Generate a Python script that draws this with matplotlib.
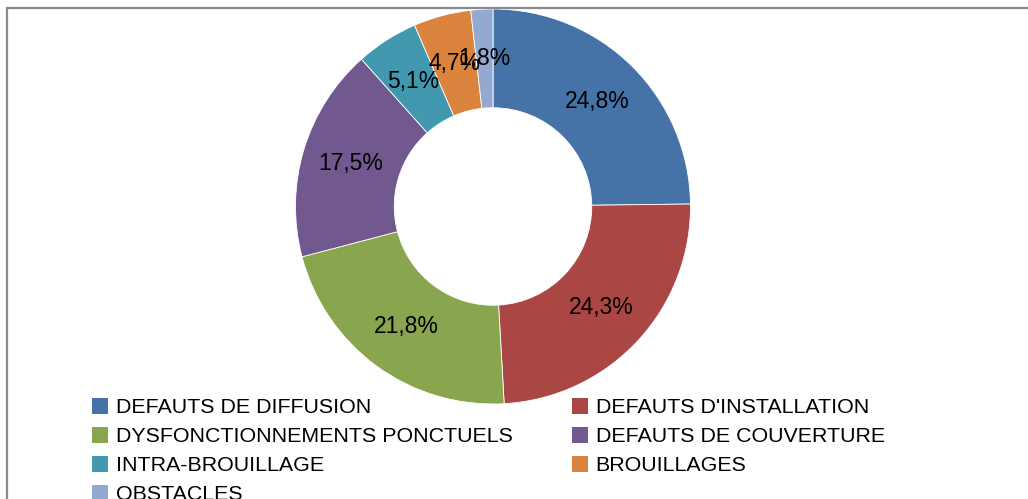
import matplotlib
matplotlib.use("Agg")
import matplotlib.pyplot as plt
from matplotlib.patches import Patch, Rectangle

categories = ["DEFAUTS DE DIFFUSION", "DEFAUTS D'INSTALLATION", "DYSFONCTIONNEMENTS PONCTUELS",
              "DEFAUTS DE COUVERTURE", "INTRA-BROUILLAGE", "BROUILLAGES", "OBSTACLES"]
values = [24.8, 24.3, 21.8, 17.5, 5.1, 4.7, 1.8]
colors = ["#4572A7", "#AA4643", "#89A54E", "#71588F", "#4198AF", "#DB843D", "#93A9CF"]

plt.rcParams['font.family'] = ['Liberation Sans', 'DejaVu Sans']

W, H = 1028, 499
fig = plt.figure(figsize=(W / 100, H / 100), dpi=100)

# frame (cropped on right and bottom)
fig.patches.append(Rectangle((6.5 / W, -0.2), 1.2, 1.2 - 7.5 / H, transform=fig.transFigure,
                             fill=False, edgecolor="#8a8a8a", linewidth=1.6))

cx, cy, R = 493, 206.5, 197.5
ax = fig.add_axes([(cx - R) / W, (H - cy - R) / H, 2 * R / W, 2 * R / H])
wedges, texts, autotexts = ax.pie(
    values, colors=colors, startangle=90, counterclock=False, radius=1.0,
    wedgeprops=dict(width=0.5, edgecolor="white", linewidth=0.6),
    autopct=lambda p: f"{p:.1f}%".replace(".", ","), pctdistance=0.75,
    textprops=dict(fontsize=16.5, color="black"))
ax.set_xlim(-1, 1)
ax.set_ylim(-1, 1)
ax.set_aspect("equal")
ax.axis("off")

# legend rows (row-major in reference) -> column-major order for matplotlib
order = [0, 2, 4, 6, 1, 3, 5]
handles = [Patch(facecolor=colors[i], edgecolor="none") for i in order]
labels = [categories[i] for i in order]
fig.legend(handles, labels, loc="upper left", bbox_to_anchor=(75 / W, 1 - 381 / H),
           ncol=2, frameon=False, fontsize=15.4, handlelength=0.75, handleheight=0.75,
           handletextpad=0.35, columnspacing=2.78, labelspacing=0.45, borderpad=0.3)

fig.savefig("out.png", dpi=100)
